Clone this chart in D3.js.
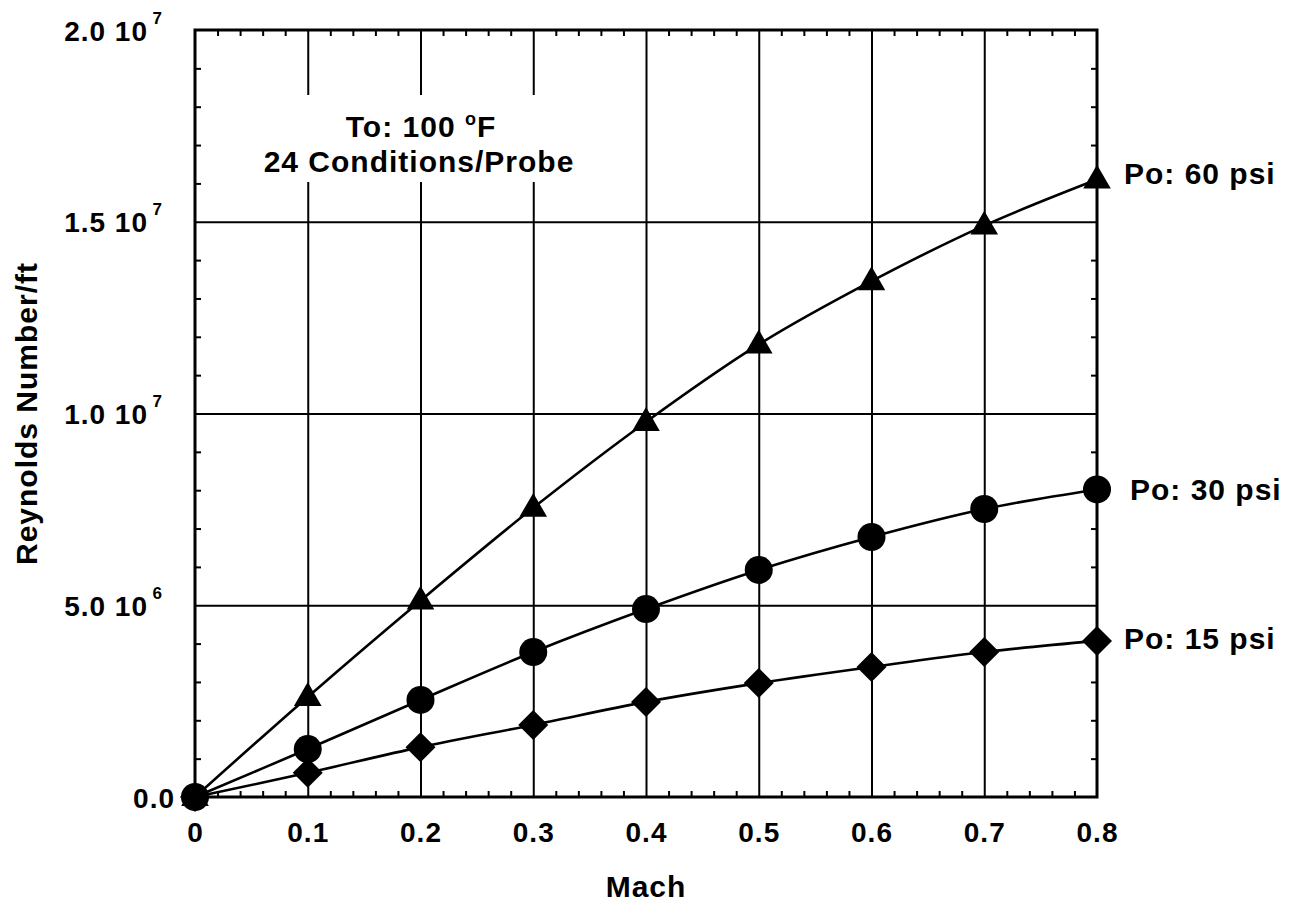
<!DOCTYPE html>
<html>
<head>
<meta charset="utf-8">
<script src="https://cdn.jsdelivr.net/npm/d3@7"></script>
<style>
  html, body { margin: 0; padding: 0; background: #fff; }
  svg text { font-family: "Liberation Sans", Arial, Helvetica, sans-serif; font-weight: bold; fill: #000; letter-spacing: 1px; }
</style>
</head>
<body>
<svg id="chart" width="1302" height="911"></svg>
<script>
// ---- data ----
const mach = [0, 0.1, 0.2, 0.3, 0.4, 0.5, 0.6, 0.7, 0.8];
const re60 = [0, 2.61e6, 5.12e6, 7.54e6, 9.78e6, 1.18e7, 1.345e7, 1.49e7, 1.61e7];
const re30 = [0, 1.25e6, 2.53e6, 3.78e6, 4.90e6, 5.92e6, 6.78e6, 7.51e6, 8.02e6];
const re15 = [0, 0.63e6, 1.30e6, 1.88e6, 2.48e6, 2.97e6, 3.39e6, 3.78e6, 4.07e6];
const seriesLabels = ["Po: 60 psi", "Po: 30 psi", "Po: 15 psi"];
const xTickValues = [0, 0.1, 0.2, 0.3, 0.4, 0.5, 0.6, 0.7, 0.8];
const xTickLabels = ["0", "0.1", "0.2", "0.3", "0.4", "0.5", "0.6", "0.7", "0.8"];
const yTickValues = [0, 5e6, 1e7, 1.5e7, 2e7];
const yTickMantissa = ["0.0", "5.0 10", "1.0 10", "1.5 10", "2.0 10"];
const yTickExponent = ["", "6", "7", "7", "7"];
const annotation = ["To: 100 ", "24 Conditions/Probe"];

// ---- layout ----
const L = 195, R = 1097, T = 30, B = 797;
const svg = d3.select("#chart");
const x = d3.scaleLinear().domain([0, 0.8]).range([L, R]);
const y = d3.scaleLinear().domain([0, 2e7]).range([B, T]);
const W = R - L, H = B - T;
const FS = 30, TFS = 28;

const minorX = d3.range(0, 41).map(i => i * 0.02).filter(v => Math.round(v * 50) % 5 !== 0);
const minorY = d3.range(0, 21).map(i => i * 1e6).filter(v => Math.round(v / 1e6) % 5 !== 0);

function clean(g) { g.select(".domain").remove(); }

// gridlines
svg.append("g").attr("transform", `translate(0,${B})`)
  .call(d3.axisBottom(x).tickValues(xTickValues.slice(1, -1)).tickSize(-H).tickFormat(""))
  .call(clean).selectAll("line").attr("stroke", "#000").attr("stroke-width", 2);
svg.append("g").attr("transform", `translate(${L},0)`)
  .call(d3.axisLeft(y).tickValues(yTickValues.slice(1, -1)).tickSize(-W).tickFormat(""))
  .call(clean).selectAll("line").attr("stroke", "#000").attr("stroke-width", 2);

// minor ticks (inside) on all four sides
const tk = 6;
svg.append("g").attr("transform", `translate(0,${B})`)
  .call(d3.axisBottom(x).tickValues(minorX).tickSize(-tk).tickFormat(""))
  .call(clean).selectAll("line").attr("stroke", "#000").attr("stroke-width", 2);
svg.append("g").attr("transform", `translate(0,${T})`)
  .call(d3.axisTop(x).tickValues(minorX).tickSize(-tk).tickFormat(""))
  .call(clean).selectAll("line").attr("stroke", "#000").attr("stroke-width", 2);
svg.append("g").attr("transform", `translate(${L},0)`)
  .call(d3.axisLeft(y).tickValues(minorY).tickSize(-tk).tickFormat(""))
  .call(clean).selectAll("line").attr("stroke", "#000").attr("stroke-width", 2);
svg.append("g").attr("transform", `translate(${R},0)`)
  .call(d3.axisRight(y).tickValues(minorY).tickSize(-tk).tickFormat(""))
  .call(clean).selectAll("line").attr("stroke", "#000").attr("stroke-width", 2);

// annotation box (white, breaks gridlines)
svg.append("rect").attr("x", 300).attr("y", 95).attr("width", 290).attr("height", 87).attr("fill", "#fff");
const ann1 = svg.append("text").attr("x", 421).attr("y", 137).attr("text-anchor", "middle").attr("font-size", FS);
ann1.append("tspan").text(annotation[0]);
ann1.append("tspan").attr("font-size", 18).attr("dy", -12).text("o");
ann1.append("tspan").attr("dy", 12).text("F");
svg.append("text").attr("x", 419).attr("y", 172).attr("text-anchor", "middle").attr("font-size", FS).text(annotation[1]);

// series lines
const line = d3.line().x((d, i) => x(mach[i])).y(d => y(d)).curve(d3.curveCatmullRom.alpha(0.5));
[re60, re30, re15].forEach(s => {
  svg.append("path").attr("d", line(s)).attr("fill", "none").attr("stroke", "#000").attr("stroke-width", 2.6);
});

// markers
const tri = d3.symbol().type(d3.symbolTriangle).size(330);
const dia = "M0,-15L15,0L0,15L-15,0Z";
svg.append("g").selectAll("path").data(re15).join("path")
  .attr("transform", (d, i) => `translate(${x(mach[i])},${y(d)})`).attr("d", dia).attr("fill", "#000");
svg.append("g").selectAll("path").data(re60).join("path")
  .attr("transform", (d, i) => `translate(${x(mach[i])},${y(d) + 1})`).attr("d", tri).attr("fill", "#000");
svg.append("g").selectAll("circle").data(re30).join("circle")
  .attr("cx", (d, i) => x(mach[i])).attr("cy", d => y(d)).attr("r", 14).attr("fill", "#000");

// frame
svg.append("rect").attr("x", L).attr("y", T).attr("width", W).attr("height", H)
  .attr("fill", "none").attr("stroke", "#000").attr("stroke-width", 3);

// x tick labels
svg.append("g").attr("transform", `translate(0,${B})`)
  .call(d3.axisBottom(x).tickValues(xTickValues).tickSize(0).tickPadding(0).tickFormat((d, i) => xTickLabels[i]))
  .call(clean)
  .selectAll("text").attr("font-size", TFS).attr("dy", null).attr("y", 45)
  .style("font-family", "'Liberation Sans', Arial, sans-serif").style("font-weight", "bold");

// y tick labels
const yl = svg.append("g").attr("transform", `translate(${L},0)`)
  .call(d3.axisLeft(y).tickValues(yTickValues).tickSize(0).tickFormat(""))
  .call(clean);
yl.selectAll(".tick").each(function (d, i) {
  const g = d3.select(this);
  g.select("text").remove();
  const exp = yTickExponent[i];
  const t = g.append("text").attr("font-size", TFS).attr("text-anchor", "end").attr("dy", "0.36em")
    .style("font-family", "'Liberation Sans', Arial, sans-serif").style("font-weight", "bold");
  if (exp) {
    t.attr("x", -47).text(yTickMantissa[i]);
    g.append("text").attr("font-size", 17).attr("x", -32).attr("y", -7).text(exp)
      .style("font-family", "'Liberation Sans', Arial, sans-serif").style("font-weight", "bold");
  } else {
    t.attr("x", -20).text(yTickMantissa[i]);
  }
});

// axis titles
svg.append("text").attr("x", (L + R) / 2).attr("y", 897).attr("text-anchor", "middle").attr("font-size", FS).text("Mach");
svg.append("text").attr("transform", `translate(37,${(T + B) / 2}) rotate(-90)`).attr("text-anchor", "middle")
  .attr("font-size", FS).text("Reynolds Number/ft");

// series labels
const lastVals = [re60[8], re30[8], re15[8]];
const labelDx = [27, 33, 27];
const labelDy = [4, 11, 8];
seriesLabels.forEach((s, i) => {
  svg.append("text").attr("x", R + labelDx[i]).attr("y", y(lastVals[i]) + labelDy[i]).attr("font-size", FS).text(s);
});
</script>
</body>
</html>
